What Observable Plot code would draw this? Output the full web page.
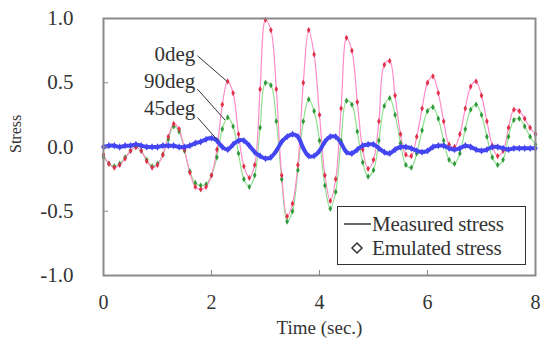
<!DOCTYPE html>
<html>
<head>
<meta charset="utf-8">
<script src="https://cdn.jsdelivr.net/npm/d3@7"></script>
<script src="https://cdn.jsdelivr.net/npm/@observablehq/plot@0.6"></script>
<style>
  html, body { margin: 0; padding: 0; background: #fff; }
  #wrap { position: relative; width: 540px; height: 339px; font-family: "Liberation Serif", "Times New Roman", serif; color: #333; }
  #legend { position: absolute; left: 337px; top: 206px; width: 187px; height: 57px; border: 1.5px solid #333; background: #fff; }
  .row { position: absolute; left: 0; height: 24px; line-height: 24px; font-size: 21px; white-space: nowrap; }
  .row svg { position: absolute; left: 4px; top: 4px; }
  .row span { position: absolute; left: 34px; top: 0; letter-spacing: -0.2px; }
</style>
</head>
<body>
<div id="wrap">
  <div id="chart"></div>
  <div id="legend"></div>
</div>
<script>
// ---- data ----
const time = [0.0,0.1,0.2,0.3,0.4,0.5,0.6,0.7,0.8,0.9,
  1.0,1.1,1.2,1.3,1.4,1.5,1.6,1.7,1.8,1.9,
  2.0,2.1,2.2,2.3,2.4,2.5,2.6,2.7,2.8,2.9,
  3.0,3.1,3.2,3.3,3.4,3.5,3.6,3.7,3.8,3.9,
  4.0,4.1,4.2,4.3,4.4,4.5,4.6,4.7,4.8,4.9,
  5.0,5.1,5.2,5.3,5.4,5.5,5.6,5.7,5.8,5.9,
  6.0,6.1,6.2,6.3,6.4,6.5,6.6,6.7,6.8,6.9,
  7.0,7.1,7.2,7.3,7.4,7.5,7.6,7.7,7.8,7.9,8.0];

const stress0deg = [-0.06,-0.13,-0.16,-0.14,-0.09,-0.03,0.00,-0.03,-0.11,-0.16,
  -0.14,-0.06,0.08,0.18,0.14,-0.02,-0.20,-0.31,-0.33,-0.31,
  -0.22,-0.02,0.33,0.51,0.42,0.10,-0.15,-0.24,-0.14,0.45,
  0.99,0.91,0.45,-0.22,-0.54,-0.44,-0.14,0.50,0.91,0.72,
  0.25,-0.22,-0.42,-0.25,0.30,0.85,0.75,0.35,-0.02,-0.17,
  -0.10,0.20,0.64,0.67,0.40,0.10,-0.06,-0.07,0.08,0.30,
  0.50,0.55,0.42,0.20,0.02,0.00,0.10,0.30,0.47,0.51,
  0.40,0.20,0.01,-0.07,-0.03,0.15,0.29,0.28,0.22,0.15,0.10];

const stress90deg = [-0.08,-0.13,-0.15,-0.13,-0.08,-0.03,0.00,-0.03,-0.10,-0.15,
  -0.13,-0.06,0.06,0.16,0.12,-0.03,-0.19,-0.28,-0.30,-0.29,
  -0.22,-0.08,0.14,0.23,0.16,-0.05,-0.25,-0.31,-0.22,0.15,
  0.50,0.48,0.20,-0.25,-0.58,-0.50,-0.18,0.20,0.37,0.28,
  0.05,-0.30,-0.48,-0.35,0.05,0.36,0.33,0.12,-0.12,-0.23,
  -0.18,0.05,0.32,0.38,0.25,0.03,-0.14,-0.16,-0.05,0.13,
  0.28,0.31,0.22,0.05,-0.10,-0.13,-0.05,0.14,0.29,0.33,
  0.25,0.08,-0.08,-0.14,-0.10,0.08,0.21,0.22,0.16,0.08,0.02];

const stress45deg = [0.00,0.01,0.01,0.00,0.01,0.01,0.02,0.01,0.00,0.00,
  0.00,0.01,0.01,0.01,0.00,0.00,0.01,0.03,0.04,0.06,
  0.07,0.05,0.00,-0.02,0.02,0.05,0.05,0.01,-0.04,-0.07,
  -0.09,-0.08,-0.03,0.04,0.08,0.10,0.08,-0.01,-0.07,-0.07,
  -0.03,0.04,0.08,0.08,0.03,-0.04,-0.05,-0.02,0.01,0.02,
  0.02,-0.01,-0.04,-0.05,-0.02,0.00,0.00,-0.01,-0.03,-0.04,
  -0.03,0.00,0.01,0.01,-0.01,-0.02,-0.01,0.01,0.00,-0.02,
  -0.03,-0.02,0.00,0.00,-0.01,-0.02,-0.01,-0.01,-0.01,-0.01,-0.01];

const xTicks = [0, 2, 4, 6, 8];
const yTicks = [-1.0, -0.5, 0.0, 0.5, 1.0];
const xLabel = "Time (sec.)";
const yLabel = "Stress";

// series annotations: label, text anchor point, leader line end point
const annotLabels = ["0deg", "90deg", "45deg"];
const annotTextX = [1.70, 1.70, 1.70];
const annotTextY = [0.72, 0.51, 0.30];
const annotLineX1 = [1.74, 1.74, 1.74];
const annotLineY1 = [0.71, 0.45, 0.23];
const annotLineX2 = [2.29, 2.25, 2.12];
const annotLineY2 = [0.51, 0.21, 0.05];

const legendLabels = ["Measured stress", "Emulated stress"];

// ---- build tables ----
const series = [
  {name: "90deg", values: stress90deg, line: "#8ee08e", dot: "#2f9a3a", lw: 1.2, r: 1.9},
  {name: "0deg",  values: stress0deg,  line: "#ff8cc8", dot: "#e0304a", lw: 1.2, r: 1.9},
  {name: "45deg", values: stress45deg, line: "#4446f2", dot: "#4446f2", lw: 4, r: 2.2}
];
const rows = s => time.map((t, i) => ({t, v: s.values[i]}));
const annots = annotLabels.map((label, i) => ({
  label, tx: annotTextX[i], ty: annotTextY[i],
  x1: annotLineX1[i], y1: annotLineY1[i], x2: annotLineX2[i], y2: annotLineY2[i]
}));

const lineMarks = series.map(s => Plot.line(rows(s), {
  x: "t", y: "v", stroke: s.line, strokeWidth: s.lw, curve: "catmull-rom"
}));
const dotMarks = series.map(s => Plot.dot(rows(s), {
  x: "t", y: "v", symbol: "diamond", r: s.r, fill: s.dot, stroke: "none"
}));

const chart = Plot.plot({
  width: 540,
  height: 339,
  marginLeft: 103,
  marginRight: 5,
  marginTop: 18,
  marginBottom: 64,
  style: {fontFamily: "'Liberation Serif', 'Times New Roman', serif", fontSize: "20px", color: "#333", background: "#fff"},
  x: {domain: [0, 8]},
  y: {domain: [-1, 1]},
  marks: [
    ...lineMarks,
    ...dotMarks,
    Plot.link(annots, {x1: "x1", y1: "y1", x2: "x2", y2: "y2", stroke: "#333", strokeWidth: 1}),
    Plot.text(annots, {x: "tx", y: "ty", text: "label", textAnchor: "end", fontSize: 21, fill: "#333"}),
    Plot.axisX({ticks: xTicks, tickSize: -5, tickFormat: () => "", stroke: "#888", label: null}),
    Plot.axisY({ticks: yTicks, tickSize: -5, tickFormat: () => "", stroke: "#888", label: null}),
    Plot.axisX({ticks: xTicks, tickSize: 0, tickPadding: 19, tickFormat: d => String(d), label: null, fill: "#333"}),
    Plot.axisY({ticks: yTicks, tickSize: 0, tickPadding: 30, tickFormat: d => d.toFixed(1), label: null, fill: "#333", fontSize: 21}),
    Plot.text([xLabel], {frameAnchor: "bottom", lineAnchor: "middle", dy: 52, fontSize: 19, fill: "#333"}),
    Plot.text([yLabel], {frameAnchor: "left", dx: -88, dy: 6, rotate: -90, fontSize: 16, fill: "#333"}),
    Plot.frame({stroke: "#8a8a8a", strokeWidth: 2})
  ]
});
document.getElementById("chart").appendChild(chart);

// ---- legend ----
const legend = document.getElementById("legend");
legendLabels.forEach((lab, i) => {
  const row = document.createElement("div");
  row.className = "row";
  row.style.top = (5 + i * 24) + "px";
  const sym = i === 0
    ? '<svg width="30" height="16"><line x1="2" y1="8" x2="29" y2="8" stroke="#333" stroke-width="1.5"/></svg>'
    : '<svg width="30" height="16"><path d="M15,3 L20,8 L15,13 L10,8 Z" fill="#fff" stroke="#333" stroke-width="1.5"/></svg>';
  row.innerHTML = sym + "<span>" + lab + "</span>";
  legend.appendChild(row);
});
</script>
</body>
</html>
